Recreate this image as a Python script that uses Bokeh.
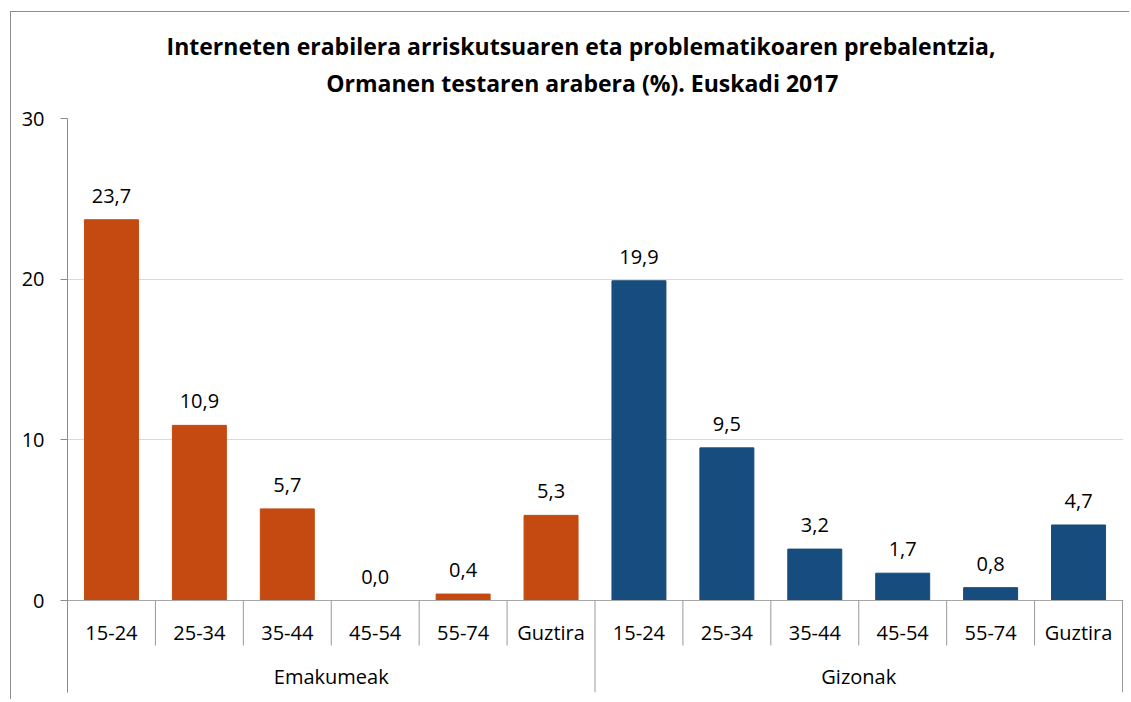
from bokeh.plotting import figure
from bokeh.models import Title, FixedTicker, Range1d, ColumnDataSource
from bokeh.embed import file_html
from bokeh.resources import INLINE
from bokeh.core.properties import value

# ---- data ----
title_lines = ["Interneten erabilera arriskutsuaren eta problematikoaren prebalentzia,",
               "Ormanen testaren arabera (%). Euskadi 2017"]
groups = ["Emakumeak", "Gizonak"]
ages = ["15-24", "25-34", "35-44", "45-54", "55-74", "Guztira"]
emakumeak = [23.7, 10.9, 5.7, 0.0, 0.4, 5.3]
gizonak = [19.9, 9.5, 3.2, 1.7, 0.8, 4.7]
y_ticks = [0, 10, 20, 30]
colors = ["#C44A12", "#174C7E"]

# ---- layout constants ----
FONT = "Open Sans"
LBL = "20px"
TSZ = "23px"
W, H = 1119, 688
FL, FT = 56, 106          # frame left / top in figure
FW, FH = 1056, 574        # frame size
YMAX = 30
PX_Y = 482 / YMAX         # px per unit on y
n_cat = len(groups) * len(ages)
PX_X = 1055 / n_cat
Y0 = -FH / PX_Y + YMAX
X1 = FW / PX_X

xs, tops, cols, labs, cats = [], [], [], [], []
for g, vals in enumerate([emakumeak, gizonak]):
    for i, v in enumerate(vals):
        xs.append(g * len(ages) + i + 0.5)
        tops.append(v)
        cols.append(colors[g])
        labs.append(f"{v:.1f}".replace(".", ","))
        cats.append(ages[i])

src = ColumnDataSource(dict(x=xs, top=tops, color=cols, lab=labs, cat=cats))

p = figure(width=W, height=H, output_backend="svg", toolbar_location=None,
           x_range=Range1d(0, X1), y_range=Range1d(Y0, YMAX),
           x_axis_location=None,
           min_border_left=FL, min_border_top=FT,
           min_border_right=W - FL - FW, min_border_bottom=H - FT - FH)
p.styles = {"transform": "translate(11px, 12px)", "box-shadow": "-1px -1px 0 0 #8c8c8c"}
p.outline_line_color = None
p.background_fill_color = "white"
p.border_fill_color = "white"

# titles (p.title outermost, added title nearer the plot)
p.title.text = title_lines[0]
p.title.align = "right"
p.title.offset = 128
p.title.text_font = FONT
p.title.text_font_size = TSZ
p.title.text_font_style = "bold"
p.title.text_color = "#000000"
p.title.standoff = -34
t2 = Title(text=title_lines[1], align="right", offset=285, text_font=FONT, text_font_size=TSZ,
           text_font_style="bold", text_color="#000000", standoff=40)
p.add_layout(t2, "above")

# y axis
p.yaxis.ticker = FixedTicker(ticks=y_ticks)
p.yaxis.axis_line_color = "#8c8c8c"
p.yaxis.major_tick_line_color = "#8c8c8c"
p.yaxis.major_tick_out = 7
p.yaxis.major_tick_in = 0
p.yaxis.minor_tick_line_color = None
p.yaxis.major_label_standoff = 16
p.yaxis.major_label_text_font = FONT
p.yaxis.major_label_text_font_size = LBL
p.yaxis.major_label_text_color = "#000000"

p.xgrid.visible = False
p.ygrid.ticker = FixedTicker(ticks=[t for t in y_ticks if t > 0])
p.ygrid.grid_line_color = "#d9d9d9"
p.ygrid.grid_line_width = 1

# bars
p.vbar(x="x", top="top", width=0.614, color="color", source=src)

# zero axis line
p.segment(x0=0, y0=0, x1=X1, y1=0, line_color="#a6a6a6", line_width=1)

# category separators
sep_x = list(range(n_cat + 1))
sep_y1 = [(-92 / PX_Y) if (k % len(ages) == 0) else (-45 / PX_Y) for k in sep_x]
p.segment(x0=sep_x, y0=[0] * len(sep_x), x1=sep_x, y1=sep_y1, line_color="#999999", line_width=1)

# data labels
p.text(x="x", y="top", text="lab", source=src, text_align="center", text_baseline="alphabetic",
       y_offset=-24, text_font=value(FONT), text_font_size=LBL, text_color="#000000")

# category labels
p.text(x="x", y=0, text="cat", source=src, text_align="center", text_baseline="alphabetic",
       y_offset=32, text_font=value(FONT), text_font_size=LBL, text_color="#000000")

# group labels
gsrc = ColumnDataSource(dict(x=[g * len(ages) + len(ages) / 2 for g in range(len(groups))], t=groups))
p.text(x="x", y=0, text="t", source=gsrc, text_align="center", text_baseline="alphabetic",
       y_offset=76, text_font=value(FONT), text_font_size=LBL, text_color="#000000")

open("out.html", "w").write(file_html(p, INLINE))
